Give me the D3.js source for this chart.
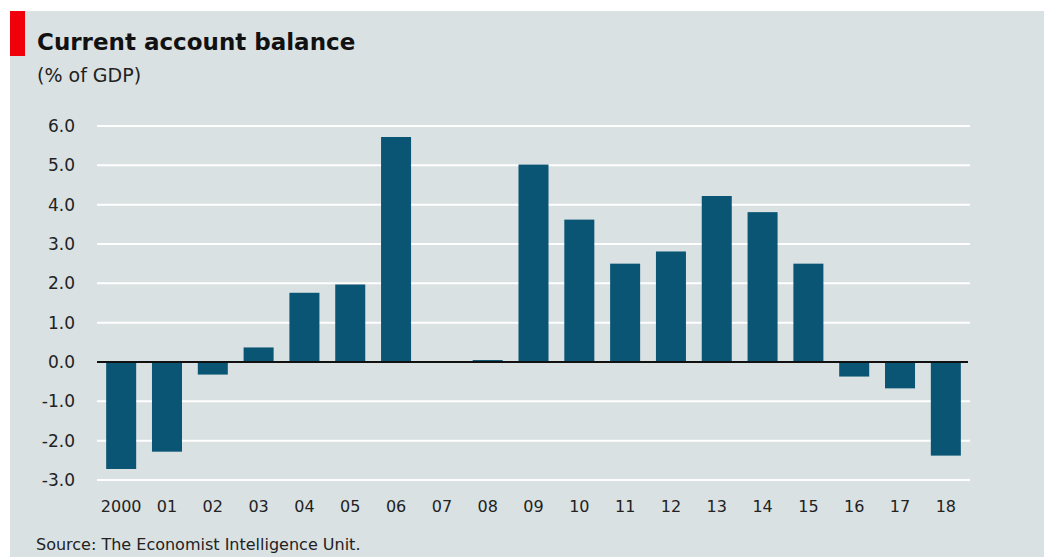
<!DOCTYPE html>
<html>
<head>
<meta charset="utf-8">
<script src="https://cdn.jsdelivr.net/npm/d3@7"></script>
<style>
  html, body { margin: 0; padding: 0; background: #ffffff; }
  svg { display: block; }
  text { font-family: "DejaVu Sans", Verdana, sans-serif; fill: #222; }
</style>
</head>
<body>
<svg id="chart" width="1044" height="557"></svg>
<script>
// Current account balance, % of GDP
const years = ["2000", "01", "02", "03", "04", "05", "06", "07", "08", "09",
               "10", "11", "12", "13", "14", "15", "16", "17", "18"];
const balance = [-2.72, -2.28, -0.32, 0.37, 1.76, 1.97, 5.72, 0.0, 0.05, 5.02,
                 3.62, 2.50, 2.81, 4.22, 3.81, 2.50, -0.37, -0.67, -2.38];
const yTicks = [-3, -2, -1, 0, 1, 2, 3, 4, 5, 6];

const svg = d3.select("#chart");
const W = 1044, H = 557;

// panel background
svg.append("rect")
  .attr("x", 10).attr("y", 11)
  .attr("width", W - 10).attr("height", H - 11)
  .attr("fill", "#d9e1e3");

// red tag beside the title
svg.append("rect")
  .attr("x", 10).attr("y", 11)
  .attr("width", 15).attr("height", 45)
  .attr("fill", "#f0000a");

svg.append("text")
  .attr("x", 37).attr("y", 50)
  .attr("font-size", 23).attr("font-weight", "bold")
  .style("fill", "#111")
  .text("Current account balance");

svg.append("text")
  .attr("x", 37).attr("y", 82)
  .attr("font-size", 19)
  .text("(% of GDP)");

const plot = { left: 97, right: 970, top: 126, bottom: 480 };

const y = d3.scaleLinear()
  .domain([-3, 6])
  .range([plot.bottom, plot.top]);

const x = d3.scaleBand()
  .domain(years)
  .range([plot.left, plot.right])
  .paddingInner(0.345)
  .paddingOuter(0.2);

// horizontal gridlines
svg.append("g")
  .selectAll("line")
  .data(yTicks.filter(d => d !== 0))
  .join("line")
  .attr("x1", plot.left).attr("x2", plot.right)
  .attr("y1", d => y(d)).attr("y2", d => y(d))
  .attr("stroke", "#ffffff")
  .attr("stroke-width", 2);

// y-axis labels (plain hyphen for negatives)
const yAxis = d3.axisLeft(y)
  .tickValues(yTicks)
  .tickFormat(d => d.toFixed(1))
  .tickSize(0)
  .tickPadding(0);
const gy = svg.append("g")
  .attr("transform", "translate(75,0)")
  .call(yAxis);
gy.select(".domain").remove();
gy.selectAll("text")
  .attr("font-size", 17)
  .attr("font-family", "DejaVu Sans, Verdana, sans-serif")
  .style("fill", "#222");

// bars
svg.append("g")
  .selectAll("rect")
  .data(years.map((yr, i) => ({ yr, v: balance[i] })))
  .join("rect")
  .attr("x", d => x(d.yr))
  .attr("width", x.bandwidth())
  .attr("y", d => y(Math.max(0, d.v)))
  .attr("height", d => Math.abs(y(d.v) - y(0)))
  .attr("fill", "#0b5574");

// zero baseline
svg.append("line")
  .attr("x1", plot.left).attr("x2", plot.right - 2)
  .attr("y1", y(0)).attr("y2", y(0))
  .attr("stroke", "#111")
  .attr("stroke-width", 2);

// x-axis labels
const xAxis = d3.axisBottom(x).tickSize(0).tickPadding(0);
const gx = svg.append("g")
  .attr("transform", `translate(0,${plot.bottom + 21})`)
  .call(xAxis);
gx.select(".domain").remove();
gx.selectAll("text")
  .attr("font-size", 16)
  .attr("font-family", "DejaVu Sans, Verdana, sans-serif")
  .style("fill", "#222");

svg.append("text")
  .attr("x", 36).attr("y", 550)
  .attr("font-size", 16)
  .text("Source: The Economist Intelligence Unit.");
</script>
</body>
</html>
